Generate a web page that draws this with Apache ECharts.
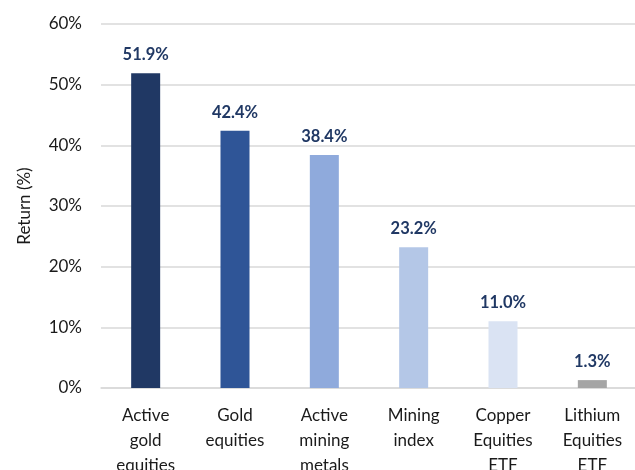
<!DOCTYPE html>
<html><head><meta charset="utf-8">
<script src="https://cdn.jsdelivr.net/npm/echarts@6/dist/echarts.min.js"></script>
<style>html,body{margin:0;padding:0;background:#fff}#c{width:635px;height:470px}</style>
</head><body><div id="c"></div>
<script>
const categories = ["Active\ngold\nequities", "Gold\nequities", "Active\nmining\nmetals", "Mining\nindex", "Copper\nEquities\nETF", "Lithium\nEquities\nETF"];
const values = [51.9, 42.4, 38.4, 23.2, 11.0, 1.3];
const barColors = ["#203864", "#2F5597", "#8FAADC", "#B4C7E7", "#DAE3F3", "#A5A5A5"];
const yTicks = [0, 10, 20, 30, 40, 50, 60];
const FONT = "Lato, 'Open Sans', sans-serif";
const chart = echarts.init(document.getElementById('c'), null, {renderer: 'canvas'});
chart.setOption({
  animation: false,
  grid: {left: 101, right: -2, top: 24, bottom: 82, containLabel: false, outerBoundsMode: 'none'},
  xAxis: {
    type: 'category', data: categories,
    axisTick: {show: false},
    axisLine: {show: true, lineStyle: {color: '#D9D9D9', width: 1.5}},
    axisLabel: {color: '#1a1a1a', fontSize: 17, fontFamily: FONT, lineHeight: 25, margin: 15, interval: 0}
  },
  yAxis: {
    type: 'value', min: yTicks[0], max: yTicks[yTicks.length - 1], interval: 10,
    name: 'Return (%)', nameLocation: 'middle', nameGap: 68, nameRotate: 90,
    nameTextStyle: {color: '#1a1a1a', fontSize: 17, fontFamily: FONT},
    axisLine: {show: false}, axisTick: {show: false},
    splitLine: {lineStyle: {color: '#D9D9D9', width: 1.5}},
    axisLabel: {color: '#1a1a1a', fontSize: 17, fontFamily: FONT, margin: 19, formatter: v => v + '%'}
  },
  series: [{
    type: 'bar', barWidth: 29,
    data: values.map((v, i) => ({value: v, itemStyle: {color: barColors[i]}})),
    label: {show: true, position: 'top', distance: 10, color: '#203864', fontWeight: 'bold', fontSize: 16.5, fontFamily: FONT,
      formatter: p => p.value.toFixed(1) + '%'}
  }]
});
</script></body></html>
